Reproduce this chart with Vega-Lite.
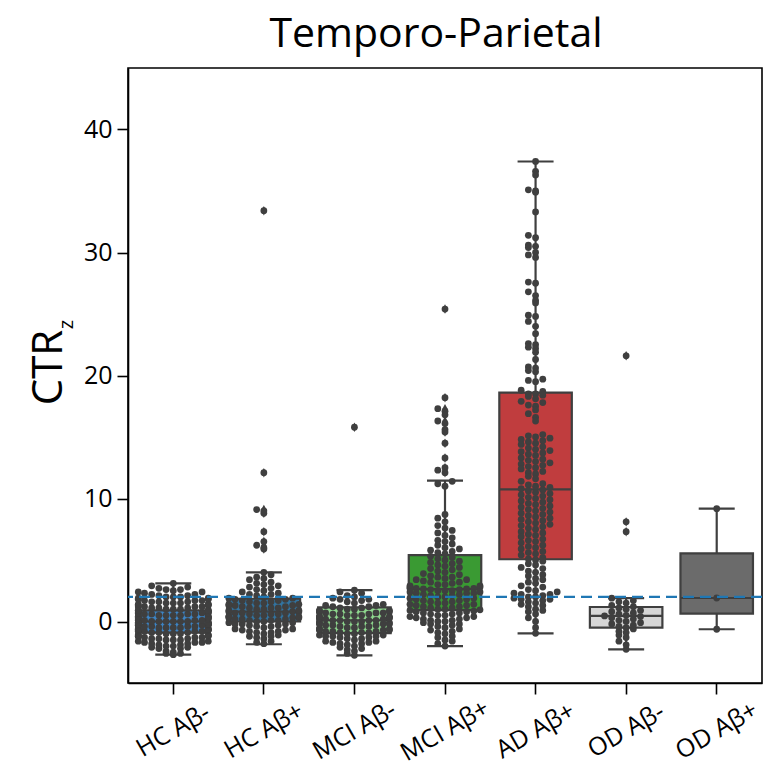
{
"$schema":"https://vega.github.io/schema/vega-lite/v6.json",
"width":634,"height":615,
"autosize":{"type":"none"},
"padding":{"left":128,"top":68,"right":19,"bottom":97},
"background":"white",
"title":{"text":"Temporo-Parietal","fontSize":41,"font":"Open Sans","fontWeight":"normal","color":"black","offset":12,"dx":-9},
"config":{"view":{"stroke":"black","strokeWidth":1.6},"font":"Open Sans"},
"datasets":{
"stats":[
{"g":"HC Aβ-","lo":-2.7,"q1":-0.9,"med":0.0,"q3":0.9,"hi":3.1},
{"g":"HC Aβ+","lo":-1.85,"q1":0.0,"med":0.8,"q3":1.85,"hi":4.0},
{"g":"MCI Aβ-","lo":-2.75,"q1":-0.95,"med":0.1,"q3":1.15,"hi":2.55},
{"g":"MCI Aβ+","lo":-2.0,"q1":0.93,"med":2.64,"q3":5.4,"hi":11.45},
{"g":"AD Aβ+","lo":-0.96,"q1":5.06,"med":10.75,"q3":18.6,"hi":37.4},
{"g":"OD Aβ-","lo":-2.26,"q1":-0.5,"med":0.45,"q3":1.18,"hi":1.9},
{"g":"OD Aβ+","lo":-0.63,"q1":0.64,"med":1.91,"q3":5.54,"hi":9.17}
],
"threshold":[{"t":2}],
"points":[
{"g":"HC Aβ-","v":-2.7},{"g":"HC Aβ-","v":-2.6},{"g":"HC Aβ-","v":-2.6},{"g":"HC Aβ-","v":-2.5},{"g":"HC Aβ-","v":-2.4},
{"g":"HC Aβ-","v":-2.2},{"g":"HC Aβ-","v":-2.2},{"g":"HC Aβ-","v":-2.1},{"g":"HC Aβ-","v":-2.1},{"g":"HC Aβ-","v":-2.0},{"g":"HC Aβ-","v":-2.0},{"g":"HC Aβ-","v":-1.9},{"g":"HC Aβ-","v":-1.9},{"g":"HC Aβ-","v":-1.8},{"g":"HC Aβ-","v":-1.8},
{"g":"HC Aβ-","v":-1.7},{"g":"HC Aβ-","v":-1.7},{"g":"HC Aβ-","v":-1.7},{"g":"HC Aβ-","v":-1.6},{"g":"HC Aβ-","v":-1.6},{"g":"HC Aβ-","v":-1.5},{"g":"HC Aβ-","v":-1.5},{"g":"HC Aβ-","v":-1.5},{"g":"HC Aβ-","v":-1.4},{"g":"HC Aβ-","v":-1.4},{"g":"HC Aβ-","v":-1.4},{"g":"HC Aβ-","v":-1.3},{"g":"HC Aβ-","v":-1.3},{"g":"HC Aβ-","v":-1.3},
{"g":"HC Aβ-","v":-1.2},{"g":"HC Aβ-","v":-1.2},{"g":"HC Aβ-","v":-1.2},{"g":"HC Aβ-","v":-1.1},{"g":"HC Aβ-","v":-1.1},{"g":"HC Aβ-","v":-1.1},{"g":"HC Aβ-","v":-1.1},{"g":"HC Aβ-","v":-1.0},{"g":"HC Aβ-","v":-1.0},{"g":"HC Aβ-","v":-1.0},{"g":"HC Aβ-","v":-0.9},{"g":"HC Aβ-","v":-0.9},{"g":"HC Aβ-","v":-0.9},{"g":"HC Aβ-","v":-0.8},{"g":"HC Aβ-","v":-0.8},{"g":"HC Aβ-","v":-0.8},{"g":"HC Aβ-","v":-0.8},
{"g":"HC Aβ-","v":-0.7},{"g":"HC Aβ-","v":-0.7},{"g":"HC Aβ-","v":-0.7},{"g":"HC Aβ-","v":-0.7},{"g":"HC Aβ-","v":-0.6},{"g":"HC Aβ-","v":-0.6},{"g":"HC Aβ-","v":-0.6},{"g":"HC Aβ-","v":-0.6},{"g":"HC Aβ-","v":-0.5},{"g":"HC Aβ-","v":-0.5},{"g":"HC Aβ-","v":-0.5},{"g":"HC Aβ-","v":-0.5},{"g":"HC Aβ-","v":-0.4},{"g":"HC Aβ-","v":-0.4},{"g":"HC Aβ-","v":-0.4},{"g":"HC Aβ-","v":-0.4},{"g":"HC Aβ-","v":-0.3},{"g":"HC Aβ-","v":-0.3},{"g":"HC Aβ-","v":-0.3},{"g":"HC Aβ-","v":-0.3},
{"g":"HC Aβ-","v":-0.2},{"g":"HC Aβ-","v":-0.2},{"g":"HC Aβ-","v":-0.2},{"g":"HC Aβ-","v":-0.2},{"g":"HC Aβ-","v":-0.2},{"g":"HC Aβ-","v":-0.1},{"g":"HC Aβ-","v":-0.1},{"g":"HC Aβ-","v":-0.1},{"g":"HC Aβ-","v":-0.1},{"g":"HC Aβ-","v":-0.1},{"g":"HC Aβ-","v":0.0},{"g":"HC Aβ-","v":0.0},{"g":"HC Aβ-","v":0.0},{"g":"HC Aβ-","v":0.0},{"g":"HC Aβ-","v":0.0},{"g":"HC Aβ-","v":0.0},{"g":"HC Aβ-","v":0.1},{"g":"HC Aβ-","v":0.1},{"g":"HC Aβ-","v":0.1},{"g":"HC Aβ-","v":0.1},{"g":"HC Aβ-","v":0.2},{"g":"HC Aβ-","v":0.2},
{"g":"HC Aβ-","v":0.3},{"g":"HC Aβ-","v":0.3},{"g":"HC Aβ-","v":0.3},{"g":"HC Aβ-","v":0.3},{"g":"HC Aβ-","v":0.4},{"g":"HC Aβ-","v":0.4},{"g":"HC Aβ-","v":0.4},{"g":"HC Aβ-","v":0.4},{"g":"HC Aβ-","v":0.5},{"g":"HC Aβ-","v":0.5},{"g":"HC Aβ-","v":0.5},{"g":"HC Aβ-","v":0.5},{"g":"HC Aβ-","v":0.6},{"g":"HC Aβ-","v":0.6},{"g":"HC Aβ-","v":0.6},{"g":"HC Aβ-","v":0.6},{"g":"HC Aβ-","v":0.7},{"g":"HC Aβ-","v":0.7},{"g":"HC Aβ-","v":0.7},{"g":"HC Aβ-","v":0.7},
{"g":"HC Aβ-","v":0.8},{"g":"HC Aβ-","v":0.8},{"g":"HC Aβ-","v":0.8},{"g":"HC Aβ-","v":0.9},{"g":"HC Aβ-","v":0.9},{"g":"HC Aβ-","v":0.9},{"g":"HC Aβ-","v":0.9},{"g":"HC Aβ-","v":1.0},{"g":"HC Aβ-","v":1.0},{"g":"HC Aβ-","v":1.0},{"g":"HC Aβ-","v":1.1},{"g":"HC Aβ-","v":1.1},{"g":"HC Aβ-","v":1.1},{"g":"HC Aβ-","v":1.2},{"g":"HC Aβ-","v":1.2},{"g":"HC Aβ-","v":1.2},{"g":"HC Aβ-","v":1.2},
{"g":"HC Aβ-","v":1.3},{"g":"HC Aβ-","v":1.3},{"g":"HC Aβ-","v":1.4},{"g":"HC Aβ-","v":1.4},{"g":"HC Aβ-","v":1.4},{"g":"HC Aβ-","v":1.5},{"g":"HC Aβ-","v":1.5},{"g":"HC Aβ-","v":1.5},{"g":"HC Aβ-","v":1.6},{"g":"HC Aβ-","v":1.6},{"g":"HC Aβ-","v":1.6},{"g":"HC Aβ-","v":1.7},{"g":"HC Aβ-","v":1.7},{"g":"HC Aβ-","v":1.7},
{"g":"HC Aβ-","v":1.8},{"g":"HC Aβ-","v":1.8},{"g":"HC Aβ-","v":1.9},{"g":"HC Aβ-","v":1.9},{"g":"HC Aβ-","v":2.0},{"g":"HC Aβ-","v":2.0},{"g":"HC Aβ-","v":2.0},{"g":"HC Aβ-","v":2.1},{"g":"HC Aβ-","v":2.1},{"g":"HC Aβ-","v":2.2},{"g":"HC Aβ-","v":2.2},
{"g":"HC Aβ-","v":2.3},{"g":"HC Aβ-","v":2.4},{"g":"HC Aβ-","v":2.4},{"g":"HC Aβ-","v":2.5},{"g":"HC Aβ-","v":2.6},{"g":"HC Aβ-","v":2.6},{"g":"HC Aβ-","v":2.7},
{"g":"HC Aβ-","v":2.8},{"g":"HC Aβ-","v":2.9},{"g":"HC Aβ-","v":3.1},
{"g":"HC Aβ+","v":-1.8},{"g":"HC Aβ+","v":-1.7},{"g":"HC Aβ+","v":-1.6},
{"g":"HC Aβ+","v":-1.4},{"g":"HC Aβ+","v":-1.3},{"g":"HC Aβ+","v":-1.2},{"g":"HC Aβ+","v":-1.2},{"g":"HC Aβ+","v":-1.1},{"g":"HC Aβ+","v":-1.0},
{"g":"HC Aβ+","v":-0.9},{"g":"HC Aβ+","v":-0.9},{"g":"HC Aβ+","v":-0.8},{"g":"HC Aβ+","v":-0.8},{"g":"HC Aβ+","v":-0.7},{"g":"HC Aβ+","v":-0.7},{"g":"HC Aβ+","v":-0.6},{"g":"HC Aβ+","v":-0.6},{"g":"HC Aβ+","v":-0.5},
{"g":"HC Aβ+","v":-0.4},{"g":"HC Aβ+","v":-0.4},{"g":"HC Aβ+","v":-0.3},{"g":"HC Aβ+","v":-0.3},{"g":"HC Aβ+","v":-0.2},{"g":"HC Aβ+","v":-0.2},{"g":"HC Aβ+","v":-0.2},{"g":"HC Aβ+","v":-0.1},{"g":"HC Aβ+","v":-0.1},{"g":"HC Aβ+","v":0.0},
{"g":"HC Aβ+","v":0.0},{"g":"HC Aβ+","v":0.1},{"g":"HC Aβ+","v":0.1},{"g":"HC Aβ+","v":0.1},{"g":"HC Aβ+","v":0.2},{"g":"HC Aβ+","v":0.2},{"g":"HC Aβ+","v":0.2},{"g":"HC Aβ+","v":0.3},{"g":"HC Aβ+","v":0.3},{"g":"HC Aβ+","v":0.3},{"g":"HC Aβ+","v":0.4},{"g":"HC Aβ+","v":0.4},{"g":"HC Aβ+","v":0.4},{"g":"HC Aβ+","v":0.5},
{"g":"HC Aβ+","v":0.5},{"g":"HC Aβ+","v":0.6},{"g":"HC Aβ+","v":0.6},{"g":"HC Aβ+","v":0.6},{"g":"HC Aβ+","v":0.7},{"g":"HC Aβ+","v":0.7},{"g":"HC Aβ+","v":0.7},{"g":"HC Aβ+","v":0.8},{"g":"HC Aβ+","v":0.8},{"g":"HC Aβ+","v":0.8},{"g":"HC Aβ+","v":0.9},{"g":"HC Aβ+","v":0.9},{"g":"HC Aβ+","v":1.0},{"g":"HC Aβ+","v":1.0},
{"g":"HC Aβ+","v":1.1},{"g":"HC Aβ+","v":1.1},{"g":"HC Aβ+","v":1.1},{"g":"HC Aβ+","v":1.2},{"g":"HC Aβ+","v":1.2},{"g":"HC Aβ+","v":1.3},{"g":"HC Aβ+","v":1.3},{"g":"HC Aβ+","v":1.3},{"g":"HC Aβ+","v":1.4},{"g":"HC Aβ+","v":1.4},{"g":"HC Aβ+","v":1.5},{"g":"HC Aβ+","v":1.5},
{"g":"HC Aβ+","v":1.6},{"g":"HC Aβ+","v":1.6},{"g":"HC Aβ+","v":1.7},{"g":"HC Aβ+","v":1.7},{"g":"HC Aβ+","v":1.8},{"g":"HC Aβ+","v":1.8},{"g":"HC Aβ+","v":1.9},{"g":"HC Aβ+","v":1.9},{"g":"HC Aβ+","v":2.0},
{"g":"HC Aβ+","v":2.1},{"g":"HC Aβ+","v":2.2},{"g":"HC Aβ+","v":2.2},{"g":"HC Aβ+","v":2.3},{"g":"HC Aβ+","v":2.4},{"g":"HC Aβ+","v":2.5},
{"g":"HC Aβ+","v":2.6},{"g":"HC Aβ+","v":2.7},{"g":"HC Aβ+","v":2.8},{"g":"HC Aβ+","v":2.9},{"g":"HC Aβ+","v":3.0},
{"g":"HC Aβ+","v":3.1},{"g":"HC Aβ+","v":3.2},{"g":"HC Aβ+","v":3.4},{"g":"HC Aβ+","v":3.5},
{"g":"HC Aβ+","v":3.6},{"g":"HC Aβ+","v":3.8},{"g":"HC Aβ+","v":4.0},
{"g":"HC Aβ+","v":5.9},{"g":"HC Aβ+","v":6.0},{"g":"HC Aβ+","v":6.2},{"g":"HC Aβ+","v":6.5},{"g":"HC Aβ+","v":7.3},{"g":"HC Aβ+","v":8.8},{"g":"HC Aβ+","v":9.0},{"g":"HC Aβ+","v":9.1},{"g":"HC Aβ+","v":12.1},{"g":"HC Aβ+","v":33.4},
{"g":"MCI Aβ-","v":-2.75},{"g":"MCI Aβ-","v":-2.6},
{"g":"MCI Aβ-","v":-2.4},{"g":"MCI Aβ-","v":-2.3},{"g":"MCI Aβ-","v":-2.2},{"g":"MCI Aβ-","v":-2.1},{"g":"MCI Aβ-","v":-2.0},
{"g":"MCI Aβ-","v":-1.9},{"g":"MCI Aβ-","v":-1.8},{"g":"MCI Aβ-","v":-1.8},{"g":"MCI Aβ-","v":-1.7},{"g":"MCI Aβ-","v":-1.7},{"g":"MCI Aβ-","v":-1.6},{"g":"MCI Aβ-","v":-1.6},{"g":"MCI Aβ-","v":-1.5},
{"g":"MCI Aβ-","v":-1.4},{"g":"MCI Aβ-","v":-1.4},{"g":"MCI Aβ-","v":-1.3},{"g":"MCI Aβ-","v":-1.3},{"g":"MCI Aβ-","v":-1.2},{"g":"MCI Aβ-","v":-1.2},{"g":"MCI Aβ-","v":-1.2},{"g":"MCI Aβ-","v":-1.1},{"g":"MCI Aβ-","v":-1.1},{"g":"MCI Aβ-","v":-1.0},{"g":"MCI Aβ-","v":-1.0},
{"g":"MCI Aβ-","v":-0.9},{"g":"MCI Aβ-","v":-0.9},{"g":"MCI Aβ-","v":-0.9},{"g":"MCI Aβ-","v":-0.8},{"g":"MCI Aβ-","v":-0.8},{"g":"MCI Aβ-","v":-0.8},{"g":"MCI Aβ-","v":-0.7},{"g":"MCI Aβ-","v":-0.7},{"g":"MCI Aβ-","v":-0.7},{"g":"MCI Aβ-","v":-0.6},{"g":"MCI Aβ-","v":-0.6},{"g":"MCI Aβ-","v":-0.6},{"g":"MCI Aβ-","v":-0.5},{"g":"MCI Aβ-","v":-0.5},
{"g":"MCI Aβ-","v":-0.4},{"g":"MCI Aβ-","v":-0.4},{"g":"MCI Aβ-","v":-0.4},{"g":"MCI Aβ-","v":-0.3},{"g":"MCI Aβ-","v":-0.3},{"g":"MCI Aβ-","v":-0.3},{"g":"MCI Aβ-","v":-0.2},{"g":"MCI Aβ-","v":-0.2},{"g":"MCI Aβ-","v":-0.2},{"g":"MCI Aβ-","v":-0.1},{"g":"MCI Aβ-","v":-0.1},{"g":"MCI Aβ-","v":-0.1},{"g":"MCI Aβ-","v":0.0},
{"g":"MCI Aβ-","v":0.0},{"g":"MCI Aβ-","v":0.0},{"g":"MCI Aβ-","v":0.1},{"g":"MCI Aβ-","v":0.1},{"g":"MCI Aβ-","v":0.1},{"g":"MCI Aβ-","v":0.1},{"g":"MCI Aβ-","v":0.2},{"g":"MCI Aβ-","v":0.2},{"g":"MCI Aβ-","v":0.2},{"g":"MCI Aβ-","v":0.3},{"g":"MCI Aβ-","v":0.3},{"g":"MCI Aβ-","v":0.3},{"g":"MCI Aβ-","v":0.4},{"g":"MCI Aβ-","v":0.4},{"g":"MCI Aβ-","v":0.4},{"g":"MCI Aβ-","v":0.5},
{"g":"MCI Aβ-","v":0.5},{"g":"MCI Aβ-","v":0.5},{"g":"MCI Aβ-","v":0.6},{"g":"MCI Aβ-","v":0.6},{"g":"MCI Aβ-","v":0.6},{"g":"MCI Aβ-","v":0.7},{"g":"MCI Aβ-","v":0.7},{"g":"MCI Aβ-","v":0.7},{"g":"MCI Aβ-","v":0.8},{"g":"MCI Aβ-","v":0.8},{"g":"MCI Aβ-","v":0.8},{"g":"MCI Aβ-","v":0.9},{"g":"MCI Aβ-","v":0.9},{"g":"MCI Aβ-","v":1.0},
{"g":"MCI Aβ-","v":1.0},{"g":"MCI Aβ-","v":1.1},{"g":"MCI Aβ-","v":1.1},{"g":"MCI Aβ-","v":1.2},{"g":"MCI Aβ-","v":1.2},{"g":"MCI Aβ-","v":1.3},{"g":"MCI Aβ-","v":1.3},{"g":"MCI Aβ-","v":1.4},{"g":"MCI Aβ-","v":1.5},
{"g":"MCI Aβ-","v":1.6},{"g":"MCI Aβ-","v":1.7},{"g":"MCI Aβ-","v":1.8},{"g":"MCI Aβ-","v":1.8},{"g":"MCI Aβ-","v":1.9},{"g":"MCI Aβ-","v":2.0},
{"g":"MCI Aβ-","v":2.1},{"g":"MCI Aβ-","v":2.3},{"g":"MCI Aβ-","v":2.4},{"g":"MCI Aβ-","v":2.55},
{"g":"MCI Aβ-","v":15.8},
{"g":"MCI Aβ+","v":25.4},{"g":"MCI Aβ+","v":18.2},{"g":"MCI Aβ+","v":17.3},{"g":"MCI Aβ+","v":17.1},{"g":"MCI Aβ+","v":16.8},{"g":"MCI Aβ+","v":16.3},{"g":"MCI Aβ+","v":16.1},{"g":"MCI Aβ+","v":15.6},{"g":"MCI Aβ+","v":15.4},{"g":"MCI Aβ+","v":14.5},{"g":"MCI Aβ+","v":13.3},{"g":"MCI Aβ+","v":12.5},{"g":"MCI Aβ+","v":12.3},{"g":"MCI Aβ+","v":12.1},
{"g":"MCI Aβ+","v":11.4},{"g":"MCI Aβ+","v":11.2},{"g":"MCI Aβ+","v":11.0},{"g":"MCI Aβ+","v":8.7},{"g":"MCI Aβ+","v":8.4},{"g":"MCI Aβ+","v":8.1},{"g":"MCI Aβ+","v":7.8},{"g":"MCI Aβ+","v":7.6},{"g":"MCI Aβ+","v":7.4},{"g":"MCI Aβ+","v":7.2},{"g":"MCI Aβ+","v":7.0},{"g":"MCI Aβ+","v":6.8},{"g":"MCI Aβ+","v":6.6},{"g":"MCI Aβ+","v":6.5},{"g":"MCI Aβ+","v":6.3},{"g":"MCI Aβ+","v":6.2},{"g":"MCI Aβ+","v":6.0},{"g":"MCI Aβ+","v":5.9},{"g":"MCI Aβ+","v":5.8},{"g":"MCI Aβ+","v":5.7},{"g":"MCI Aβ+","v":5.6},{"g":"MCI Aβ+","v":5.5},
{"g":"MCI Aβ+","v":5.3},{"g":"MCI Aβ+","v":5.2},{"g":"MCI Aβ+","v":5.1},{"g":"MCI Aβ+","v":5.0},{"g":"MCI Aβ+","v":4.9},{"g":"MCI Aβ+","v":4.8},{"g":"MCI Aβ+","v":4.7},{"g":"MCI Aβ+","v":4.6},{"g":"MCI Aβ+","v":4.5},{"g":"MCI Aβ+","v":4.4},{"g":"MCI Aβ+","v":4.3},{"g":"MCI Aβ+","v":4.2},{"g":"MCI Aβ+","v":4.1},{"g":"MCI Aβ+","v":4.0},{"g":"MCI Aβ+","v":3.9},{"g":"MCI Aβ+","v":3.8},{"g":"MCI Aβ+","v":3.7},{"g":"MCI Aβ+","v":3.6},{"g":"MCI Aβ+","v":3.6},{"g":"MCI Aβ+","v":3.5},{"g":"MCI Aβ+","v":3.4},{"g":"MCI Aβ+","v":3.4},{"g":"MCI Aβ+","v":3.3},{"g":"MCI Aβ+","v":3.2},{"g":"MCI Aβ+","v":3.2},{"g":"MCI Aβ+","v":3.1},{"g":"MCI Aβ+","v":3.0},{"g":"MCI Aβ+","v":3.0},{"g":"MCI Aβ+","v":2.9},{"g":"MCI Aβ+","v":2.9},{"g":"MCI Aβ+","v":2.8},{"g":"MCI Aβ+","v":2.8},{"g":"MCI Aβ+","v":2.7},{"g":"MCI Aβ+","v":2.7},{"g":"MCI Aβ+","v":2.7},{"g":"MCI Aβ+","v":2.65},{"g":"MCI Aβ+","v":2.65},
{"g":"MCI Aβ+","v":2.6},{"g":"MCI Aβ+","v":2.6},{"g":"MCI Aβ+","v":2.5},{"g":"MCI Aβ+","v":2.5},{"g":"MCI Aβ+","v":2.5},{"g":"MCI Aβ+","v":2.4},{"g":"MCI Aβ+","v":2.4},{"g":"MCI Aβ+","v":2.3},{"g":"MCI Aβ+","v":2.3},{"g":"MCI Aβ+","v":2.3},{"g":"MCI Aβ+","v":2.2},{"g":"MCI Aβ+","v":2.2},{"g":"MCI Aβ+","v":2.1},{"g":"MCI Aβ+","v":2.1},{"g":"MCI Aβ+","v":2.0},{"g":"MCI Aβ+","v":2.0},{"g":"MCI Aβ+","v":1.9},{"g":"MCI Aβ+","v":1.9},{"g":"MCI Aβ+","v":1.8},{"g":"MCI Aβ+","v":1.8},{"g":"MCI Aβ+","v":1.7},{"g":"MCI Aβ+","v":1.7},{"g":"MCI Aβ+","v":1.6},{"g":"MCI Aβ+","v":1.6},{"g":"MCI Aβ+","v":1.5},{"g":"MCI Aβ+","v":1.5},{"g":"MCI Aβ+","v":1.4},{"g":"MCI Aβ+","v":1.4},{"g":"MCI Aβ+","v":1.3},{"g":"MCI Aβ+","v":1.3},{"g":"MCI Aβ+","v":1.2},{"g":"MCI Aβ+","v":1.2},{"g":"MCI Aβ+","v":1.1},{"g":"MCI Aβ+","v":1.1},{"g":"MCI Aβ+","v":1.0},{"g":"MCI Aβ+","v":1.0},{"g":"MCI Aβ+","v":0.95},
{"g":"MCI Aβ+","v":0.9},{"g":"MCI Aβ+","v":0.85},{"g":"MCI Aβ+","v":0.8},{"g":"MCI Aβ+","v":0.8},{"g":"MCI Aβ+","v":0.7},{"g":"MCI Aβ+","v":0.7},{"g":"MCI Aβ+","v":0.6},{"g":"MCI Aβ+","v":0.6},{"g":"MCI Aβ+","v":0.5},{"g":"MCI Aβ+","v":0.5},{"g":"MCI Aβ+","v":0.4},{"g":"MCI Aβ+","v":0.4},{"g":"MCI Aβ+","v":0.3},{"g":"MCI Aβ+","v":0.3},{"g":"MCI Aβ+","v":0.2},{"g":"MCI Aβ+","v":0.2},{"g":"MCI Aβ+","v":0.1},{"g":"MCI Aβ+","v":0.1},{"g":"MCI Aβ+","v":0.0},{"g":"MCI Aβ+","v":0.0},{"g":"MCI Aβ+","v":-0.1},{"g":"MCI Aβ+","v":-0.2},{"g":"MCI Aβ+","v":-0.2},{"g":"MCI Aβ+","v":-0.3},{"g":"MCI Aβ+","v":-0.4},{"g":"MCI Aβ+","v":-0.5},{"g":"MCI Aβ+","v":-0.6},{"g":"MCI Aβ+","v":-0.7},{"g":"MCI Aβ+","v":-0.8},{"g":"MCI Aβ+","v":-0.9},{"g":"MCI Aβ+","v":-1.0},{"g":"MCI Aβ+","v":-1.2},{"g":"MCI Aβ+","v":-1.3},{"g":"MCI Aβ+","v":-1.5},{"g":"MCI Aβ+","v":-1.6},{"g":"MCI Aβ+","v":-1.8},{"g":"MCI Aβ+","v":-2.0},
{"g":"AD Aβ+","v":37.4},{"g":"AD Aβ+","v":36.6},{"g":"AD Aβ+","v":36.3},{"g":"AD Aβ+","v":35.1},{"g":"AD Aβ+","v":35.0},{"g":"AD Aβ+","v":34.9},{"g":"AD Aβ+","v":33.3},{"g":"AD Aβ+","v":31.4},{"g":"AD Aβ+","v":31.2},{"g":"AD Aβ+","v":30.6},{"g":"AD Aβ+","v":30.5},{"g":"AD Aβ+","v":30.4},{"g":"AD Aβ+","v":30.0},{"g":"AD Aβ+","v":29.8},{"g":"AD Aβ+","v":29.6},{"g":"AD Aβ+","v":27.6},{"g":"AD Aβ+","v":27.5},{"g":"AD Aβ+","v":26.8},{"g":"AD Aβ+","v":26.5},{"g":"AD Aβ+","v":26.1},{"g":"AD Aβ+","v":25.9},{"g":"AD Aβ+","v":24.9},{"g":"AD Aβ+","v":24.8},{"g":"AD Aβ+","v":24.4},{"g":"AD Aβ+","v":24.0},{"g":"AD Aβ+","v":23.4},{"g":"AD Aβ+","v":22.6},{"g":"AD Aβ+","v":22.5},{"g":"AD Aβ+","v":22.3},{"g":"AD Aβ+","v":22.2},{"g":"AD Aβ+","v":21.9},{"g":"AD Aβ+","v":21.3},{"g":"AD Aβ+","v":20.7},{"g":"AD Aβ+","v":20.6},{"g":"AD Aβ+","v":20.4},{"g":"AD Aβ+","v":20.3},{"g":"AD Aβ+","v":19.7},{"g":"AD Aβ+","v":19.6},{"g":"AD Aβ+","v":19.5},{"g":"AD Aβ+","v":18.8},{"g":"AD Aβ+","v":18.7},{"g":"AD Aβ+","v":18.5},
{"g":"AD Aβ+","v":18.5},{"g":"AD Aβ+","v":18.4},{"g":"AD Aβ+","v":18.3},{"g":"AD Aβ+","v":18.1},{"g":"AD Aβ+","v":17.9},{"g":"AD Aβ+","v":17.8},{"g":"AD Aβ+","v":17.6},{"g":"AD Aβ+","v":17.5},{"g":"AD Aβ+","v":17.2},{"g":"AD Aβ+","v":16.9},{"g":"AD Aβ+","v":16.6},{"g":"AD Aβ+","v":16.3},
{"g":"AD Aβ+","v":15.2},{"g":"AD Aβ+","v":15.1},{"g":"AD Aβ+","v":15.0},{"g":"AD Aβ+","v":14.9},{"g":"AD Aβ+","v":14.8},{"g":"AD Aβ+","v":14.7},{"g":"AD Aβ+","v":14.6},{"g":"AD Aβ+","v":14.5},{"g":"AD Aβ+","v":14.4},{"g":"AD Aβ+","v":14.2},{"g":"AD Aβ+","v":14.1},{"g":"AD Aβ+","v":14.0},{"g":"AD Aβ+","v":13.9},{"g":"AD Aβ+","v":13.8},{"g":"AD Aβ+","v":13.7},{"g":"AD Aβ+","v":13.6},{"g":"AD Aβ+","v":13.5},{"g":"AD Aβ+","v":13.3},{"g":"AD Aβ+","v":13.2},{"g":"AD Aβ+","v":13.1},{"g":"AD Aβ+","v":13.0},{"g":"AD Aβ+","v":12.9},{"g":"AD Aβ+","v":12.8},{"g":"AD Aβ+","v":12.7},{"g":"AD Aβ+","v":12.6},{"g":"AD Aβ+","v":12.5},{"g":"AD Aβ+","v":12.4},{"g":"AD Aβ+","v":12.2},{"g":"AD Aβ+","v":12.1},{"g":"AD Aβ+","v":12.0},{"g":"AD Aβ+","v":11.8},{"g":"AD Aβ+","v":11.6},{"g":"AD Aβ+","v":11.4},
{"g":"AD Aβ+","v":11.2},{"g":"AD Aβ+","v":11.1},{"g":"AD Aβ+","v":11.0},{"g":"AD Aβ+","v":10.9},{"g":"AD Aβ+","v":10.8},
{"g":"AD Aβ+","v":10.7},{"g":"AD Aβ+","v":10.6},{"g":"AD Aβ+","v":10.5},{"g":"AD Aβ+","v":10.4},{"g":"AD Aβ+","v":10.3},{"g":"AD Aβ+","v":10.2},{"g":"AD Aβ+","v":10.1},{"g":"AD Aβ+","v":10.0},{"g":"AD Aβ+","v":9.9},{"g":"AD Aβ+","v":9.8},{"g":"AD Aβ+","v":9.7},{"g":"AD Aβ+","v":9.6},{"g":"AD Aβ+","v":9.5},{"g":"AD Aβ+","v":9.4},{"g":"AD Aβ+","v":9.3},{"g":"AD Aβ+","v":9.2},{"g":"AD Aβ+","v":9.1},{"g":"AD Aβ+","v":9.0},{"g":"AD Aβ+","v":8.9},{"g":"AD Aβ+","v":8.8},{"g":"AD Aβ+","v":8.7},{"g":"AD Aβ+","v":8.6},{"g":"AD Aβ+","v":8.5},{"g":"AD Aβ+","v":8.4},{"g":"AD Aβ+","v":8.3},{"g":"AD Aβ+","v":8.2},{"g":"AD Aβ+","v":8.1},{"g":"AD Aβ+","v":8.0},{"g":"AD Aβ+","v":7.9},{"g":"AD Aβ+","v":7.8},{"g":"AD Aβ+","v":7.7},{"g":"AD Aβ+","v":7.6},{"g":"AD Aβ+","v":7.5},{"g":"AD Aβ+","v":7.3},{"g":"AD Aβ+","v":7.2},{"g":"AD Aβ+","v":7.1},{"g":"AD Aβ+","v":7.0},{"g":"AD Aβ+","v":6.9},{"g":"AD Aβ+","v":6.7},{"g":"AD Aβ+","v":6.6},{"g":"AD Aβ+","v":6.5},{"g":"AD Aβ+","v":6.4},{"g":"AD Aβ+","v":6.2},{"g":"AD Aβ+","v":6.1},{"g":"AD Aβ+","v":6.0},{"g":"AD Aβ+","v":5.9},{"g":"AD Aβ+","v":5.7},{"g":"AD Aβ+","v":5.6},{"g":"AD Aβ+","v":5.5},{"g":"AD Aβ+","v":5.4},{"g":"AD Aβ+","v":5.2},{"g":"AD Aβ+","v":5.1},
{"g":"AD Aβ+","v":5.0},{"g":"AD Aβ+","v":4.9},{"g":"AD Aβ+","v":4.7},{"g":"AD Aβ+","v":4.6},{"g":"AD Aβ+","v":4.4},{"g":"AD Aβ+","v":4.3},{"g":"AD Aβ+","v":4.1},{"g":"AD Aβ+","v":4.0},{"g":"AD Aβ+","v":3.8},{"g":"AD Aβ+","v":3.7},{"g":"AD Aβ+","v":3.5},{"g":"AD Aβ+","v":3.4},{"g":"AD Aβ+","v":3.2},{"g":"AD Aβ+","v":3.1},{"g":"AD Aβ+","v":2.9},{"g":"AD Aβ+","v":2.8},
{"g":"AD Aβ+","v":2.6},{"g":"AD Aβ+","v":2.5},{"g":"AD Aβ+","v":2.4},{"g":"AD Aβ+","v":2.3},{"g":"AD Aβ+","v":2.2},{"g":"AD Aβ+","v":2.2},{"g":"AD Aβ+","v":2.1},{"g":"AD Aβ+","v":2.0},{"g":"AD Aβ+","v":2.0},{"g":"AD Aβ+","v":1.9},{"g":"AD Aβ+","v":1.8},{"g":"AD Aβ+","v":1.8},{"g":"AD Aβ+","v":1.7},{"g":"AD Aβ+","v":1.6},{"g":"AD Aβ+","v":1.5},{"g":"AD Aβ+","v":1.4},{"g":"AD Aβ+","v":1.3},{"g":"AD Aβ+","v":1.2},{"g":"AD Aβ+","v":1.0},{"g":"AD Aβ+","v":0.9},{"g":"AD Aβ+","v":0.8},{"g":"AD Aβ+","v":0.6},
{"g":"AD Aβ+","v":0.3},{"g":"AD Aβ+","v":0.0},{"g":"AD Aβ+","v":-0.5},{"g":"AD Aβ+","v":-0.96},
{"g":"OD Aβ-","v":-2.26},{"g":"OD Aβ-","v":-1.9},{"g":"OD Aβ-","v":-1.6},{"g":"OD Aβ-","v":-1.3},{"g":"OD Aβ-","v":-1.1},{"g":"OD Aβ-","v":-0.9},{"g":"OD Aβ-","v":-0.8},{"g":"OD Aβ-","v":-0.6},{"g":"OD Aβ-","v":-0.5},{"g":"OD Aβ-","v":-0.4},{"g":"OD Aβ-","v":-0.3},{"g":"OD Aβ-","v":-0.2},{"g":"OD Aβ-","v":-0.1},{"g":"OD Aβ-","v":0.0},{"g":"OD Aβ-","v":0.1},{"g":"OD Aβ-","v":0.2},{"g":"OD Aβ-","v":0.3},{"g":"OD Aβ-","v":0.4},{"g":"OD Aβ-","v":0.45},{"g":"OD Aβ-","v":0.5},{"g":"OD Aβ-","v":0.6},{"g":"OD Aβ-","v":0.7},{"g":"OD Aβ-","v":0.8},{"g":"OD Aβ-","v":0.9},{"g":"OD Aβ-","v":1.0},{"g":"OD Aβ-","v":1.1},{"g":"OD Aβ-","v":1.2},{"g":"OD Aβ-","v":1.3},{"g":"OD Aβ-","v":1.5},{"g":"OD Aβ-","v":1.6},{"g":"OD Aβ-","v":1.7},{"g":"OD Aβ-","v":1.9},{"g":"OD Aβ-","v":7.3},{"g":"OD Aβ-","v":8.1},{"g":"OD Aβ-","v":21.6},
{"g":"OD Aβ+","v":9.17},{"g":"OD Aβ+","v":1.91},{"g":"OD Aβ+","v":-0.63}
]
},
"layer":[
{"data":{"name":"stats"},
 "mark":{"type":"rule","color":"#3f3f3f","strokeWidth":2.2},
 "encoding":{
  "x":{"field":"g","type":"nominal","sort":["HC Aβ-","HC Aβ+","MCI Aβ-","MCI Aβ+","AD Aβ+","OD Aβ-","OD Aβ+"],
       "scale":{"type":"band","paddingInner":0,"paddingOuter":0,"domain":["HC Aβ-","HC Aβ+","MCI Aβ-","MCI Aβ+","AD Aβ+","OD Aβ-","OD Aβ+"]},
       "axis":{"title":null,"labelAngle":-30,"labelAlign":"center","labelBaseline":"middle","labelPadding":36,"labelFontSize":25,"labelFont":"Open Sans","labelColor":"black","tickSize":11,"tickWidth":1.6,"tickColor":"black","domainColor":"black","domainWidth":1.6,"grid":false}},
  "y":{"field":"lo","type":"quantitative","scale":{"domain":[-5,45],"nice":false,"zero":false},
       "axis":{"values":[0,10,20,30,40],"title":"CTR","titleFontSize":42,"titleFont":"Open Sans","titleFontWeight":"normal","titleColor":"black","titleX":-80,"titleY":299,"titleAngle":-90,"titleAlign":"center","titleBaseline":"middle","labelFontSize":25,"labelFont":"Open Sans","labelColor":"black","labelPadding":5,"tickSize":11,"tickWidth":1.6,"tickColor":"black","domainColor":"black","domainWidth":1.6,"grid":false}},
  "y2":{"field":"hi"}
 }},
{"data":{"name":"stats"},
 "mark":{"type":"bar","width":72.5,"stroke":"#3f3f3f","strokeWidth":2.2,"opacity":1},
 "encoding":{
  "x":{"field":"g","type":"nominal"},
  "y":{"field":"q1","type":"quantitative","axis":null},
  "y2":{"field":"q3"},
  "color":{"field":"g","type":"nominal","legend":null,
     "scale":{"domain":["HC Aβ-","HC Aβ+","MCI Aβ-","MCI Aβ+","AD Aβ+","OD Aβ-","OD Aβ+"],
              "range":["#3d85c6","#3274a1","#8fd88f","#3a9a33","#c03d3e","#d6d6d6","#6b6b6b"]}}
 }},
{"data":{"name":"stats"},
 "mark":{"type":"tick","orient":"horizontal","size":72.5,"thickness":2.2,"color":"#3f3f3f","opacity":1},
 "encoding":{
  "x":{"field":"g","type":"nominal"},
  "y":{"field":"med","type":"quantitative","axis":null}
 }},
{"data":{"name":"stats"},
 "transform":[{"fold":["lo","hi"],"as":["k","val"]}],
 "mark":{"type":"tick","orient":"horizontal","size":36,"thickness":2.2,"color":"#3f3f3f","opacity":1},
 "encoding":{
  "x":{"field":"g","type":"nominal"},
  "y":{"field":"val","type":"quantitative","axis":null}
 }},
{"data":{"name":"points"},
 "transform":[
  {"lookup":"g","from":{"data":{"name":"stats"},"key":"g","fields":["lo","hi"]}},
  {"filter":"datum.v < datum.lo || datum.v > datum.hi"}
 ],
 "mark":{"type":"point","shape":"M0,-1L0.55,0L0,1L-0.55,0Z","filled":true,"size":90,"color":"#3f3f3f","opacity":1},
 "encoding":{
  "x":{"field":"g","type":"nominal"},
  "y":{"field":"v","type":"quantitative","axis":null}
 }},
{"data":{"name":"points"},
 "transform":[
  {"bin":{"step":0.5},"field":"v","as":"vb"},
  {"window":[{"op":"row_number","as":"rk"}],"groupby":["g","vb"],"sort":[{"field":"v","order":"ascending"}]},
  {"calculate":"max(-35, min(35, (datum.rk % 2 == 0 ? -1 : 1) * floor(datum.rk / 2) * 7.2))","as":"off"}
 ],
 "mark":{"type":"circle","size":46,"color":"#3f3f3f","opacity":1},
 "encoding":{
  "x":{"field":"g","type":"nominal"},
  "xOffset":{"field":"off","type":"quantitative","scale":{"domain":[-45.3,45.3]}},
  "y":{"field":"v","type":"quantitative","axis":null}
 }},
{"data":{"name":"threshold"},
 "mark":{"type":"rule","color":"#1f77b4","strokeWidth":2.2,"strokeDash":[11,6]},
 "encoding":{
  "y":{"field":"t","type":"quantitative",
       "axis":{"orient":"left","title":"z","titleFontSize":20,"titleFont":"Open Sans","titleFontWeight":"normal","titleColor":"black","titleX":-62,"titleY":256,"titleAngle":-90,"titleAlign":"center","titleBaseline":"middle","labels":false,"ticks":false,"domain":false,"grid":false}}
 }}
],
"resolve":{"axis":{"y":"independent"}}
}
